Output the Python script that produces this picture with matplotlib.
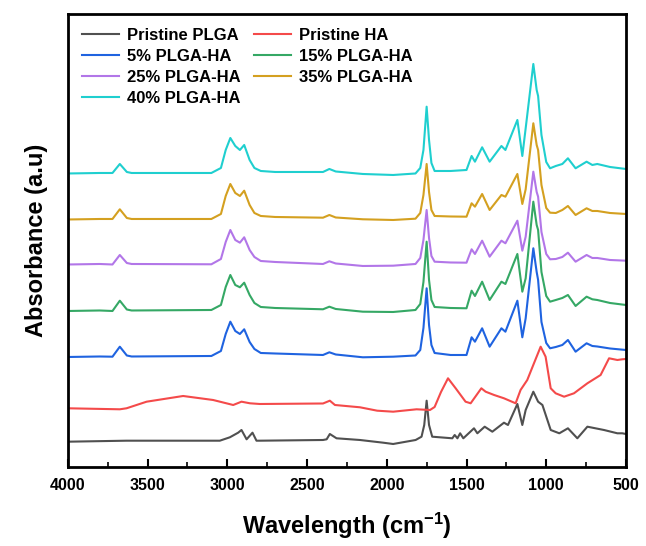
import matplotlib
matplotlib.use("Agg")
import matplotlib.pyplot as plt
from matplotlib.ticker import MultipleLocator

plt.rcParams['font.family'] = ['Liberation Sans', 'DejaVu Sans']
plt.rcParams['font.weight'] = 'bold'
plt.rcParams['mathtext.fontset'] = 'custom'
plt.rcParams['mathtext.rm'] = 'Liberation Sans:bold'
plt.rcParams['mathtext.bf'] = 'Liberation Sans:bold'
plt.rcParams['mathtext.default'] = 'bf'

# Pristine PLGA
wn_plga = [4000, 3632, 3047, 2984, 2932, 2911, 2879, 2842, 2817, 2796,
           2400, 2377, 2357, 2315, 2168, 2022, 1960, 1819, 1782, 1765,
           1750, 1735, 1715, 1589, 1574, 1557, 1540, 1520, 1453, 1432,
           1386, 1338, 1265, 1240, 1181, 1150, 1129, 1081, 1051, 1024,
           972, 918, 864, 805, 742, 638, 554, 523, 500]
ab_plga = [0.283, 0.293, 0.293, 0.327, 0.373, 0.40, 0.307, 0.373, 0.293, 0.293,
           0.30, 0.307, 0.36, 0.317, 0.30, 0.273, 0.26, 0.30, 0.333, 0.45,
           0.693, 0.45, 0.333, 0.317, 0.35, 0.317, 0.367, 0.317, 0.417, 0.367,
           0.433, 0.383, 0.473, 0.45, 0.66, 0.45, 0.60, 0.783, 0.683, 0.65,
           0.40, 0.367, 0.417, 0.317, 0.433, 0.40, 0.367, 0.367, 0.36]

# Pristine HA
wn_ha = [4000, 3674, 3632, 3506, 3277, 3089, 2963, 2911, 2858, 2796,
         2400, 2357, 2325, 2168, 2060, 1960, 1813, 1729, 1700, 1660,
         1616, 1568, 1506, 1474, 1407, 1380, 1327, 1265, 1192, 1161,
         1119, 1077, 1035, 1004, 972, 941, 888, 826, 742, 659,
         606, 554, 523, 500]
ab_ha = [0.617, 0.607, 0.617, 0.683, 0.74, 0.70, 0.65, 0.683, 0.667, 0.66,
         0.665, 0.693, 0.65, 0.627, 0.593, 0.583, 0.607, 0.60, 0.63, 0.78,
         0.917, 0.817, 0.683, 0.667, 0.817, 0.783, 0.75, 0.717, 0.667, 0.80,
         0.90, 1.067, 1.233, 1.133, 0.817, 0.767, 0.733, 0.767, 0.867, 0.95,
         1.117, 1.10, 1.107, 1.11]

# composites, common wavenumber grid
wn_comp = [4000, 3800, 3720, 3674, 3630, 3600, 3100, 3040, 3010, 2981,
           2950, 2921, 2894, 2860, 2830, 2790, 2700, 2400, 2360, 2320,
           2150, 1960, 1820, 1790, 1770, 1750, 1735, 1720, 1700, 1600,
           1500, 1468, 1447, 1402, 1355, 1281, 1256, 1181, 1150, 1129,
           1081, 1060, 1051, 1030, 1000, 976, 940, 899, 864, 816,
           747, 711, 680, 600, 500]

ab_5 = [1.13, 1.135, 1.133, 1.233, 1.145, 1.135, 1.14, 1.19, 1.36, 1.483,
        1.39, 1.36, 1.407, 1.28, 1.21, 1.17, 1.165, 1.15, 1.177, 1.155,
        1.127, 1.133, 1.145, 1.20, 1.42, 1.817, 1.45, 1.25, 1.17, 1.15,
        1.15, 1.327, 1.283, 1.417, 1.233, 1.417, 1.383, 1.693, 1.327, 1.517,
        2.217, 1.98, 1.90, 1.48, 1.27, 1.217, 1.23, 1.25, 1.30, 1.183,
        1.267, 1.24, 1.235, 1.215, 1.20]

ab_15 = [1.59, 1.595, 1.59, 1.693, 1.605, 1.595, 1.60, 1.65, 1.83, 1.95,
         1.85, 1.827, 1.873, 1.75, 1.67, 1.63, 1.62, 1.607, 1.633, 1.61,
         1.583, 1.58, 1.60, 1.66, 1.88, 2.283, 1.90, 1.70, 1.63, 1.62,
         1.617, 1.793, 1.74, 1.883, 1.70, 1.883, 1.86, 2.16, 1.783, 1.917,
         2.683, 2.45, 2.40, 1.98, 1.74, 1.683, 1.70, 1.72, 1.75, 1.64,
         1.733, 1.707, 1.70, 1.67, 1.65]

ab_25 = [2.055, 2.06, 2.055, 2.15, 2.07, 2.06, 2.057, 2.11, 2.28, 2.40,
         2.30, 2.273, 2.327, 2.20, 2.13, 2.09, 2.08, 2.06, 2.087, 2.065,
         2.04, 2.043, 2.06, 2.12, 2.30, 2.60, 2.32, 2.14, 2.083, 2.075,
         2.073, 2.207, 2.16, 2.293, 2.133, 2.293, 2.267, 2.493, 2.193, 2.333,
         2.983, 2.78, 2.733, 2.38, 2.16, 2.107, 2.11, 2.13, 2.173, 2.083,
         2.15, 2.12, 2.12, 2.10, 2.093]

ab_35 = [2.505, 2.51, 2.51, 2.607, 2.52, 2.51, 2.51, 2.56, 2.74, 2.86,
         2.77, 2.74, 2.793, 2.65, 2.57, 2.54, 2.53, 2.523, 2.55, 2.525,
         2.507, 2.50, 2.513, 2.57, 2.75, 3.06, 2.78, 2.60, 2.54, 2.535,
         2.533, 2.667, 2.633, 2.76, 2.60, 2.75, 2.733, 2.96, 2.66, 2.807,
         3.467, 3.25, 3.20, 2.85, 2.62, 2.573, 2.57, 2.60, 2.64, 2.55,
         2.617, 2.59, 2.59, 2.57, 2.56]

ab_40 = [2.965, 2.97, 2.97, 3.06, 2.98, 2.97, 2.97, 3.02, 3.20, 3.32,
         3.24, 3.20, 3.25, 3.10, 3.02, 2.99, 2.98, 2.98, 3.01, 2.985,
         2.96, 2.95, 2.965, 3.02, 3.20, 3.633, 3.30, 3.07, 2.99, 2.99,
         3.00, 3.14, 3.083, 3.227, 3.083, 3.24, 3.20, 3.50, 3.14, 3.417,
         4.06, 3.80, 3.74, 3.35, 3.08, 3.017, 3.04, 3.06, 3.117, 3.017,
         3.083, 3.05, 3.06, 3.03, 3.01]

labels = ['Pristine PLGA', 'Pristine HA', '5% PLGA-HA', '15% PLGA-HA',
          '25% PLGA-HA', '35% PLGA-HA', '40% PLGA-HA']
colors = ['#505050', '#f44a4a', '#1f63e0', '#35a865',
          '#b276e8', '#d4a020', '#1fcfcf']

series = [(wn_plga, ab_plga), (wn_ha, ab_ha), (wn_comp, ab_5), (wn_comp, ab_15),
          (wn_comp, ab_25), (wn_comp, ab_35), (wn_comp, ab_40)]

fig = plt.figure(figsize=(6.46, 5.46), dpi=100)
ax = fig.add_axes([0.105, 0.1447, 0.864, 0.8297])

lines = []
for (x, y), lab, c in zip(series, labels, colors):
    ln, = ax.plot(x, y, color=c, lw=1.5, label=lab)
    lines.append(ln)

ax.set_xlim(4000, 500)
ax.set_ylim(0.03, 4.56)
ax.xaxis.set_major_locator(MultipleLocator(500))
ax.xaxis.set_minor_locator(MultipleLocator(250))
ax.tick_params(axis='x', which='major', direction='in', length=6, width=1.5,
               labelsize=11.5, pad=8)
ax.tick_params(axis='x', which='minor', direction='in', length=3.5, width=1.2)
ax.set_yticks([])
for s in ax.spines.values():
    s.set_linewidth(2)

ax.set_xlabel('Wavelength (cm$^{-1}$)', fontsize=17, fontweight='bold', labelpad=13)
ax.set_ylabel('Absorbance (a.u)', fontsize=17, fontweight='bold', labelpad=14)

# legend filled row by row, like the original
order = [0, 2, 4, 6, 1, 3, 5]
ax.legend([lines[i] for i in order], [labels[i] for i in order],
          loc='upper left', ncol=2, frameon=False,
          handlelength=2.2, handletextpad=0.5, columnspacing=0.8,
          labelspacing=0.36, borderaxespad=0.45,
          prop={'weight': 'bold', 'size': 12})

fig.savefig('out.png', dpi=100)
